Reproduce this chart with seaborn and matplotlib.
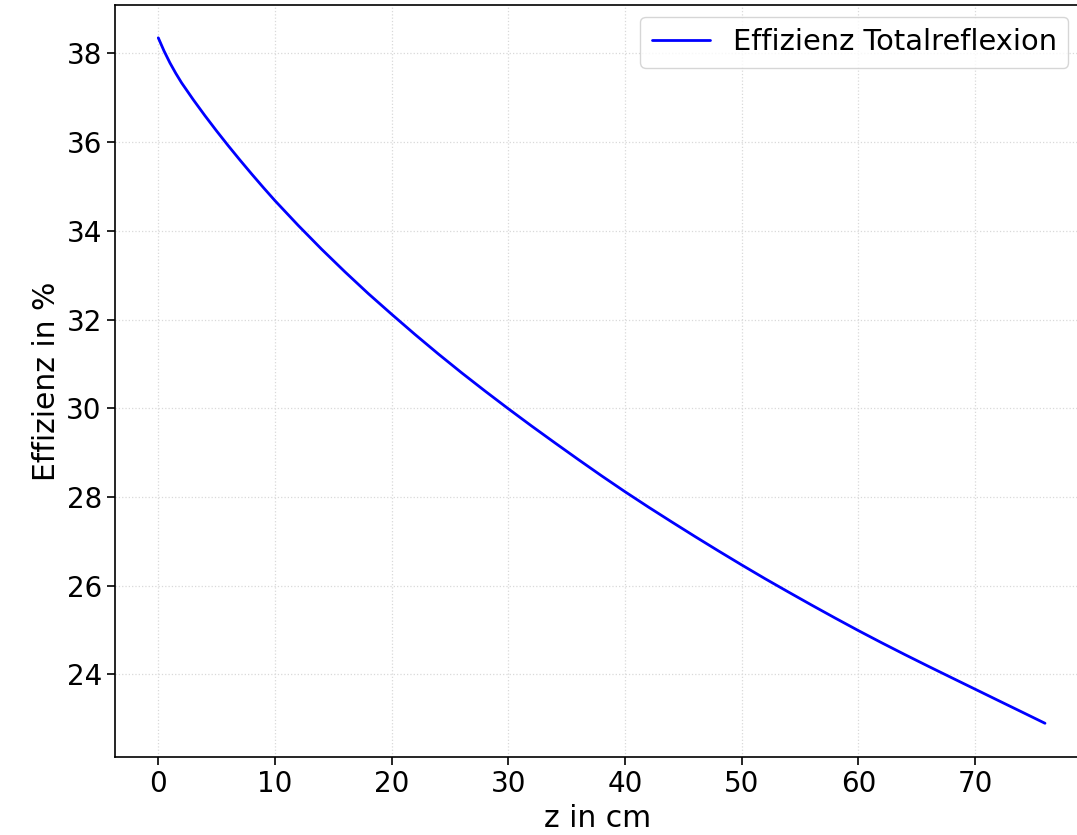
import matplotlib
matplotlib.use("Agg")
import matplotlib.pyplot as plt
import seaborn as sns
import pandas as pd

z_cm = [0, 0.5, 1, 1.5, 2, 3, 4, 5, 6, 7, 8, 9, 10,
        12, 14, 16, 18, 20, 22, 24, 26, 28, 30, 32, 34, 36, 38, 40,
        42, 44, 46, 48, 50, 52, 54, 56, 58, 60, 62, 64, 66, 68, 70, 72, 74, 76]
effizienz = [38.35, 38.05, 37.785, 37.55, 37.335, 36.955, 36.595, 36.25, 35.917, 35.595,
             35.282, 34.977, 34.68,
             34.12, 33.585, 33.075, 32.585, 32.12, 31.665, 31.225, 30.80, 30.39, 29.99,
             29.60, 29.22, 28.845, 28.477, 28.12,
             27.775, 27.44, 27.11, 26.787, 26.47, 26.16, 25.86, 25.564, 25.274, 24.99,
             24.715, 24.447, 24.185, 23.927, 23.67, 23.413, 23.157, 22.90]
series_label = "Effizienz Totalreflexion"
x_ticks = [0, 10, 20, 30, 40, 50, 60, 70]
y_ticks = [24, 26, 28, 30, 32, 34, 36, 38]

sns.set_style("ticks")
plt.rcParams['font.family'] = ['DejaVu Sans']
plt.rcParams['text.color'] = 'black'
plt.rcParams['axes.labelcolor'] = 'black'
plt.rcParams['xtick.color'] = 'black'
plt.rcParams['ytick.color'] = 'black'

df = pd.DataFrame({"z": z_cm, "eff": effizienz})

fig = plt.figure(figsize=(10.77, 8.35), dpi=100)
ax = fig.add_axes([115 / 1077, 1 - 757 / 835, (1080 - 115) / 1077, (757 - 5) / 835])
sns.lineplot(data=df, x="z", y="eff", ax=ax, color="#0000ff", linewidth=2.0, label=series_label)

ax.set_xlim(-3.71, 79.0)
ax.set_ylim(22.14, 39.09)
ax.set_xticks(x_ticks)
ax.set_yticks(y_ticks)
ax.tick_params(labelsize=20, length=6, width=1.2, color="black", labelcolor="black")
ax.set_xlabel("z in cm", fontsize=21.5, color="black")
ax.set_ylabel("Effizienz in %", fontsize=21.5, color="black")
ax.grid(True, linestyle=":", color="#d9d9d9", linewidth=0.9)
for s in ax.spines.values():
    s.set_color("black")
    s.set_linewidth(1.2)

leg = ax.legend(loc="upper right", fontsize=20.8, frameon=True, fancybox=True,
                borderaxespad=0.4)
leg.get_frame().set_edgecolor("#cccccc")
for t in leg.get_texts():
    t.set_color("black")

fig.savefig("out.png", dpi=100)
